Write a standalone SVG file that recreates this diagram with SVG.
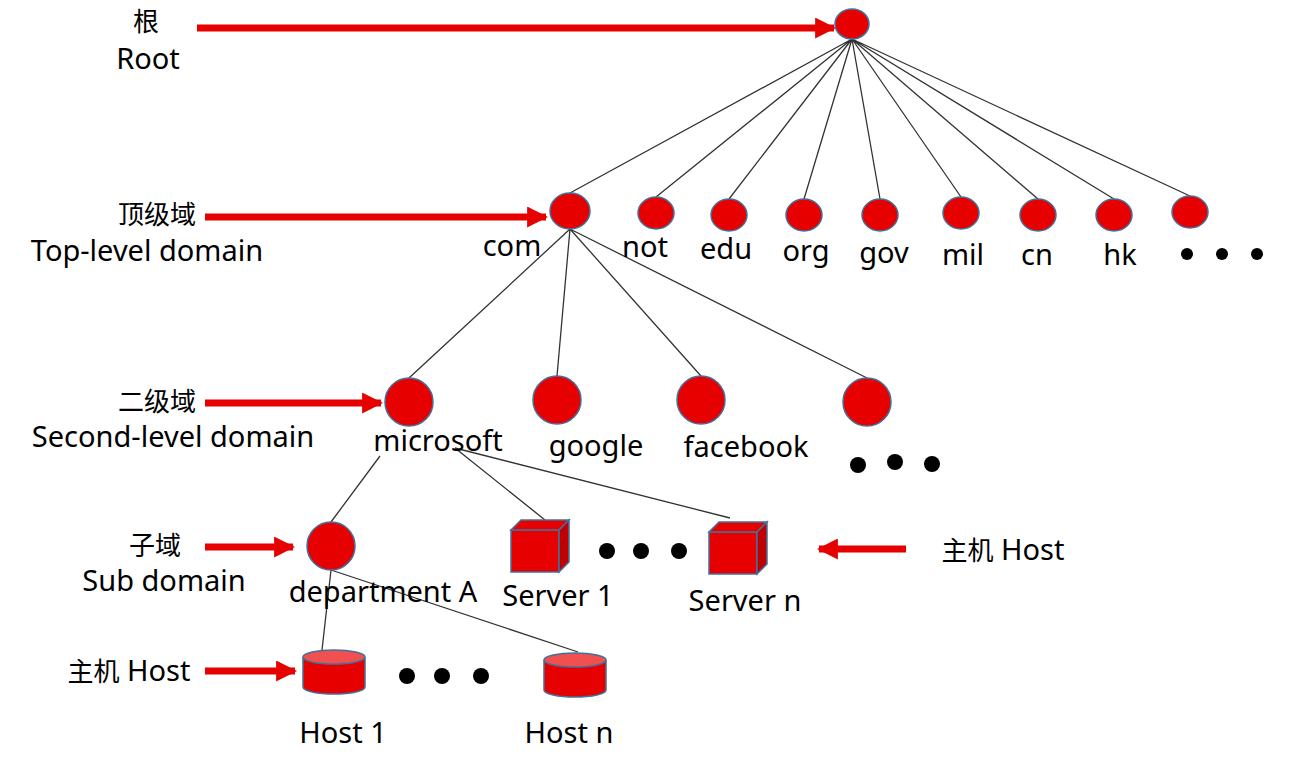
<svg xmlns="http://www.w3.org/2000/svg" width="1306" height="766" viewBox="0 0 1306 766">
<style>
.n{fill:#e60000;stroke:#41719c;stroke-width:1.5}
.l{stroke:#333;stroke-width:1.3;fill:none}
.a{stroke:#e60000;stroke-width:7;fill:none}
text{font-family:"Noto Sans","Open Sans","Noto Sans CJK SC",sans-serif;font-size:29px;fill:#000;text-anchor:middle}
.c{font-size:26px}
.d{fill:#000}
</style>
<defs>
<marker id="ah" viewBox="0 0 10 10" refX="9" refY="5" markerWidth="3" markerHeight="3" orient="auto-start-reverse"><path d="M0,0L10,5L0,10z" fill="#e60000"/></marker>
<g id="cube"><rect class="n" x="0" y="10" width="48" height="42"/><path class="n" d="M0,10L10,0H58L48,10Z"/><path class="n" d="M48,10L58,0V42L48,52Z" style="fill:#c00000"/></g>
<g id="cyl"><path class="n" d="M0,7V37A31,7 0 0 0 62,37V7"/><ellipse class="n" cx="31" cy="7" rx="31" ry="7" style="fill:#f05050"/></g>
</defs>
<g id="connectors">
<path class="l" d="M852,39L570,193M852,39L656,197M852,39L729,199M852,39L804,199M852,39L880,199M852,39L961,197M852,39L1038,199M852,39L1114,199M852,39L1190,196"/>
<path class="l" d="M570,229L409,378M570,229L557,376M570,229L701,376M570,229L867,378"/>
<path class="l" d="M380,456L331,522M455,448L545,520M455,448L730,518"/>
<path class="l" d="M331,570L322,650M331,570L578,652"/>
<path class="a" d="M197,28H834" marker-end="url(#ah)"/>
<path class="a" d="M205,217H546" marker-end="url(#ah)"/>
<path class="a" d="M205,403H381" marker-end="url(#ah)"/>
<path class="a" d="M205,547H293" marker-end="url(#ah)"/>
<path class="a" d="M205,671H295" marker-end="url(#ah)"/>
<path class="a" d="M906,549H819" marker-end="url(#ah)"/>
</g>
<g id="labels">
<text class="c" x="146" y="31">根</text><text x="148" y="69">Root</text>
<text class="c" x="157" y="224">顶级域</text><text x="147" y="261">Top-level domain</text>
<text class="c" x="157" y="411">二级域</text><text x="173" y="447">Second-level domain</text>
<text class="c" x="155" y="555">子域</text><text x="164" y="591">Sub domain</text>
<text x="129" y="681"><tspan class="c">主机</tspan>  Host</text>
<text x="1003" y="560"><tspan class="c">主机</tspan>  Host</text>
</g>
<g id="root"><ellipse class="n" cx="852" cy="24" rx="17" ry="15"/></g>
<g id="tld">
<ellipse class="n" cx="570" cy="211" rx="20" ry="18"/><text x="512" y="256">com</text>
<ellipse class="n" cx="656" cy="213" rx="18" ry="16"/><text x="645" y="257">not</text>
<ellipse class="n" cx="729" cy="215" rx="18" ry="16"/><text x="726" y="259">edu</text>
<ellipse class="n" cx="804" cy="215" rx="18" ry="16"/><text x="806" y="261">org</text>
<ellipse class="n" cx="880" cy="215" rx="18" ry="16"/><text x="884" y="263">gov</text>
<ellipse class="n" cx="961" cy="213" rx="18" ry="16"/><text x="963" y="265">mil</text>
<ellipse class="n" cx="1038" cy="215" rx="18" ry="16"/><text x="1037" y="265">cn</text>
<ellipse class="n" cx="1114" cy="215" rx="18" ry="16"/><text x="1120" y="265">hk</text>
<ellipse class="n" cx="1190" cy="212" rx="18" ry="16"/>
<circle class="d" cx="1187" cy="254" r="6"/><circle class="d" cx="1222" cy="254" r="6"/><circle class="d" cx="1257" cy="254" r="6"/>
</g>
<g id="sld">
<circle class="n" cx="409" cy="402" r="24"/><text x="438" y="451">microsoft</text>
<circle class="n" cx="557" cy="400" r="24"/><text x="596" y="456">google</text>
<circle class="n" cx="701" cy="400" r="24"/><text x="746" y="457">facebook</text>
<circle class="n" cx="867" cy="402" r="24"/>
<circle class="d" cx="858" cy="465" r="8"/><circle class="d" cx="895" cy="462" r="8"/><circle class="d" cx="932" cy="464" r="8"/>
</g>
<g id="sub"><circle class="n" cx="331" cy="546" r="24"/><text x="383" y="602">department A</text></g>
<g id="server1"><use href="#cube" x="511" y="520"/><text x="558" y="606">Server 1</text></g>
<g id="servern"><use href="#cube" x="709" y="522"/><text x="745" y="611">Server n</text></g>
<circle class="d" cx="607" cy="551" r="8"/><circle class="d" cx="641" cy="551" r="8"/><circle class="d" cx="679" cy="551" r="8"/>
<g id="host1"><use href="#cyl" x="303" y="650"/><text x="343" y="743">Host 1</text></g>
<g id="hostn"><use href="#cyl" x="544" y="653"/><text x="569" y="743">Host n</text></g>
<circle class="d" cx="407" cy="676" r="8"/><circle class="d" cx="442" cy="676" r="8"/><circle class="d" cx="481" cy="676" r="8"/>
</svg>
